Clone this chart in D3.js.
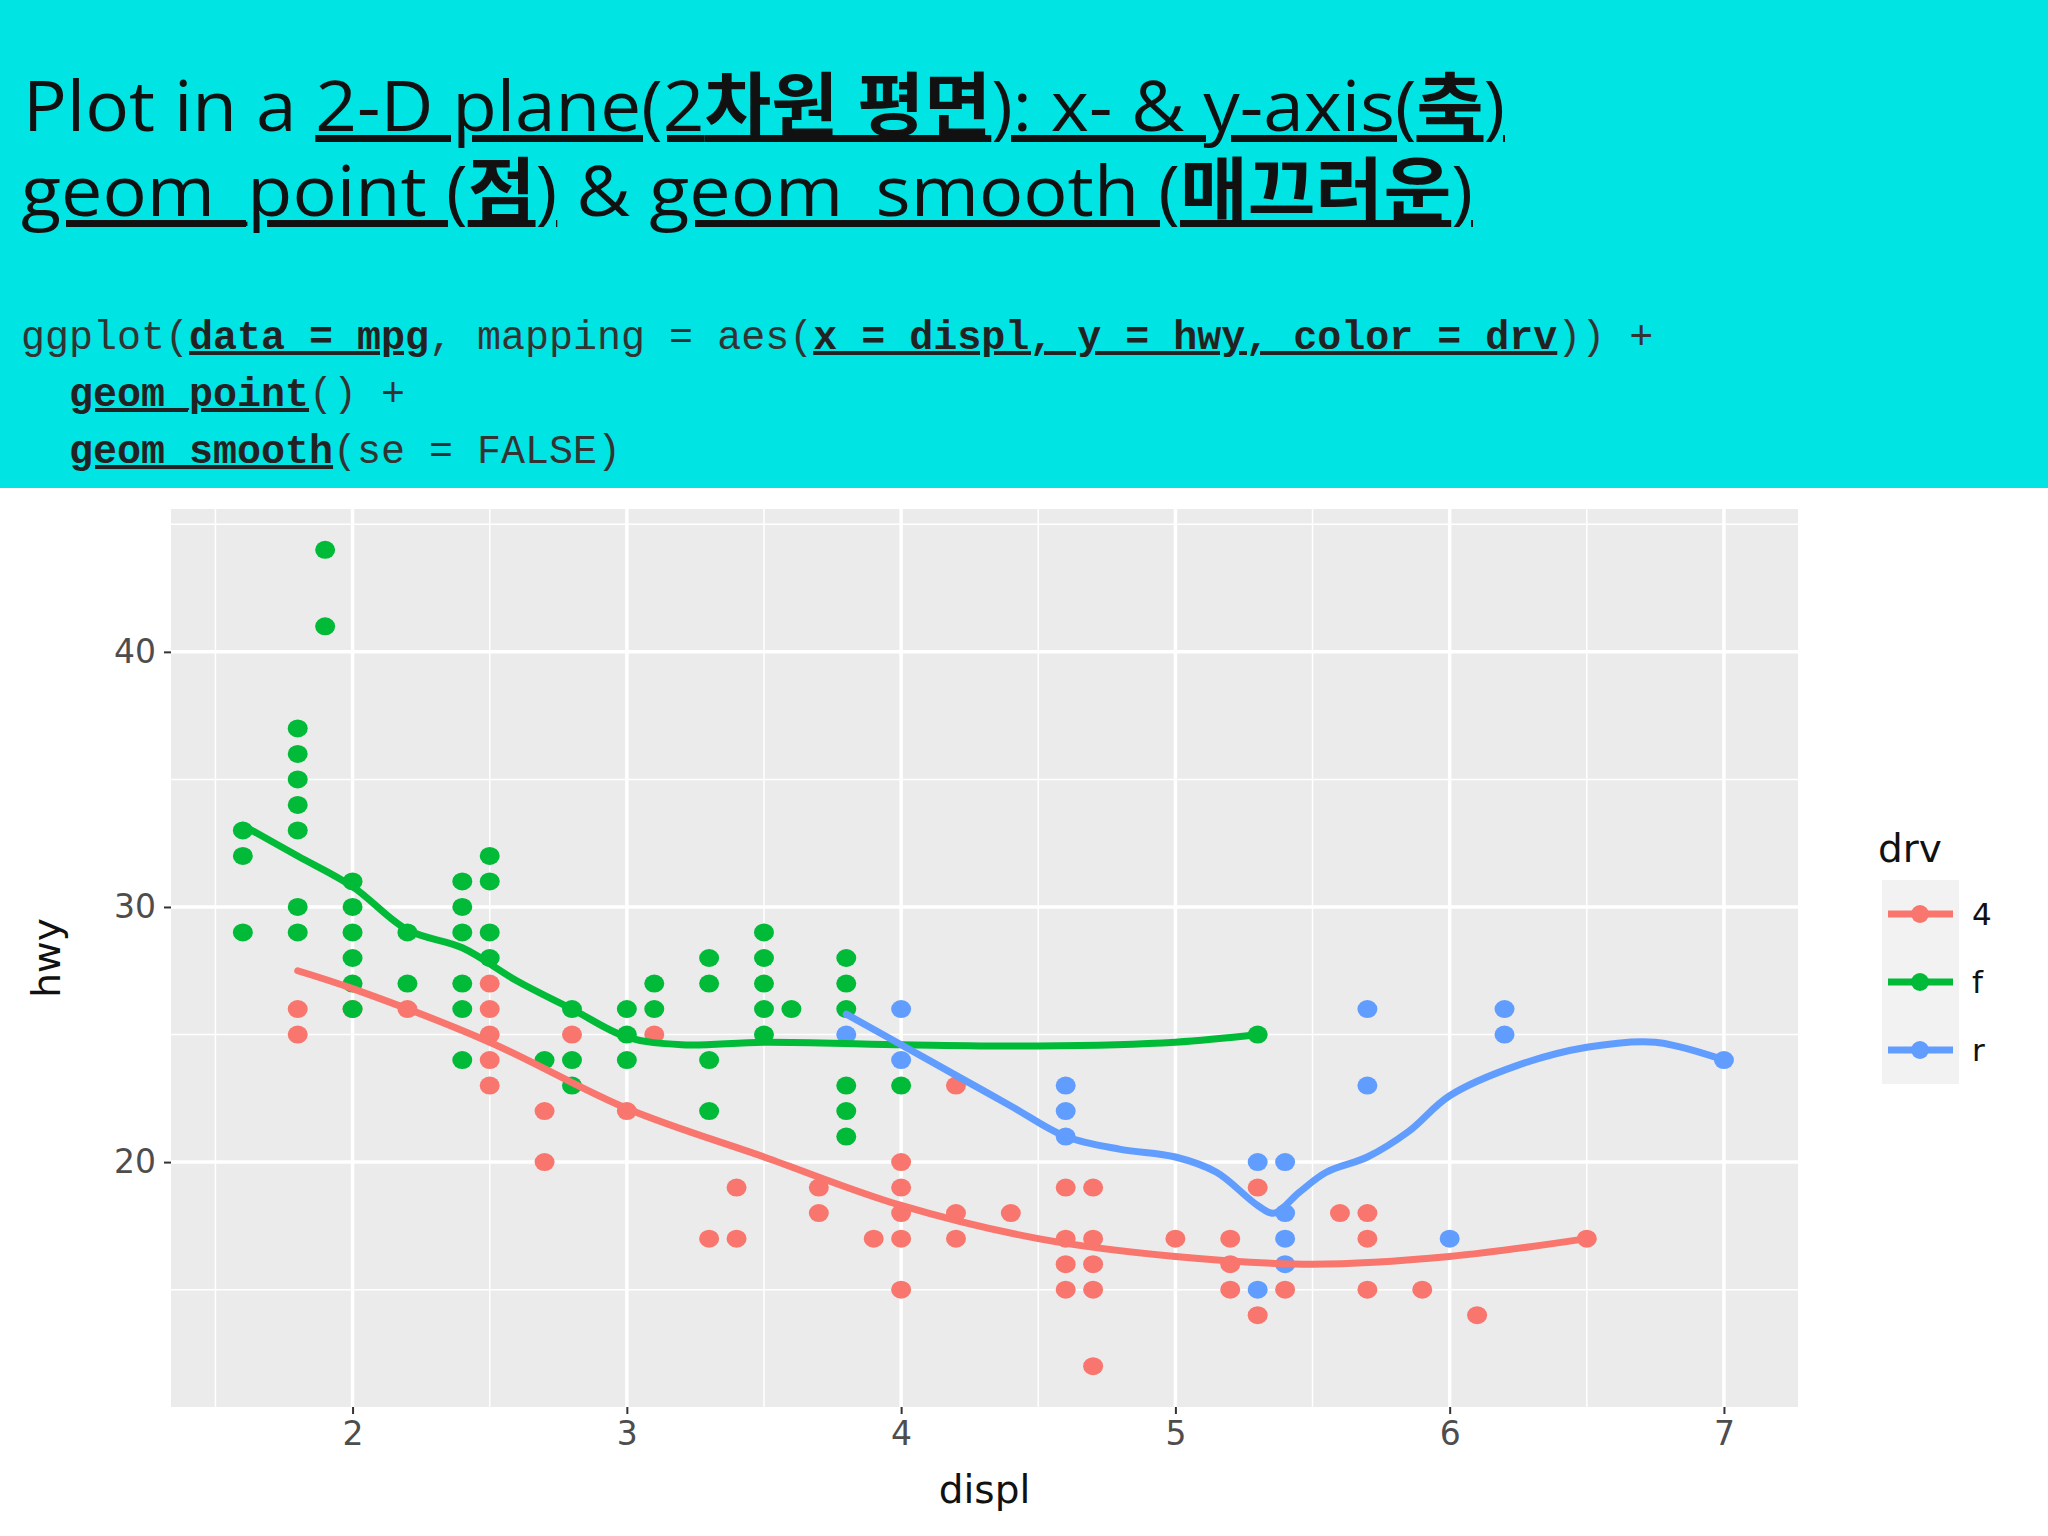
<!DOCTYPE html>
<html><head><meta charset="utf-8">
<script src="https://cdn.jsdelivr.net/npm/d3@7"></script>
<style>body{margin:0;background:#fff}text{white-space:pre}</style>
</head><body>
<script>
// mpg points: [displ, hwy]
const pts4 = [[1.8,26],[1.8,25],[2.0,26],[2.2,26],[2.5,27],[2.5,26],[2.5,25],[2.5,24],[2.5,23],[2.7,22],[2.7,20],[2.8,25],[3.0,22],[3.1,25],
  [3.3,17],[3.4,19],[3.4,17],[3.7,19],[3.7,18],[3.9,17],[4.0,20],[4.0,19],[4.0,18],[4.0,17],[4.0,15],[4.2,23],[4.2,18],[4.2,17],[4.4,18],
  [4.6,19],[4.6,17],[4.6,16],[4.6,15],[4.7,19],[4.7,17],[4.7,16],[4.7,15],[4.7,12],[5.0,17],[5.2,17],[5.2,16],[5.2,15],[5.3,19],[5.3,14],
  [5.4,15],[5.6,18],[5.7,18],[5.7,17],[5.7,15],[5.9,15],[6.1,14],[6.5,17]];
const ptsF = [[1.6,33],[1.6,32],[1.6,29],[1.8,37],[1.8,36],[1.8,35],[1.8,34],[1.8,33],[1.8,30],[1.8,29],[1.9,44],[1.9,41],
  [2.0,31],[2.0,30],[2.0,29],[2.0,28],[2.0,27],[2.0,26],[2.2,29],[2.2,27],[2.4,31],[2.4,30],[2.4,29],[2.4,27],[2.4,26],[2.4,24],
  [2.5,32],[2.5,31],[2.5,29],[2.5,28],[2.7,24],[2.8,26],[2.8,24],[2.8,23],[3.0,26],[3.0,25],[3.0,24],[3.1,27],[3.1,26],
  [3.3,28],[3.3,27],[3.3,24],[3.3,22],[3.5,29],[3.5,28],[3.5,27],[3.5,26],[3.5,25],[3.6,26],
  [3.8,28],[3.8,27],[3.8,26],[3.8,23],[3.8,22],[3.8,21],[4.0,23],[5.3,25]];
const ptsR = [[3.8,25],[4.0,26],[4.0,24],[4.6,23],[4.6,22],[4.6,21],[5.3,20],[5.3,15],[5.4,20],[5.4,18],[5.4,17],[5.4,16],
  [5.7,26],[5.7,23],[6.0,17],[6.2,26],[6.2,25],[7.0,24]];
// smooth curves
const smooth4 = [[1.8,27.5],[2.0,26.8],[2.5,24.7],[3.0,22.1],[3.5,20.2],[4.0,18.3],[4.5,17.0],[5.0,16.3],[5.5,16.0],[6.0,16.3],[6.5,17.0]];
const smoothF = [[1.6,33.2],[1.8,32.0],[2.0,30.8],[2.2,29.1],[2.4,28.4],[2.6,27.1],[2.8,26.0],[3.0,24.9],[3.2,24.6],[3.5,24.7],[4.0,24.6],[4.5,24.55],[5.0,24.7],[5.3,25.0]];
const smoothR = [[3.8,25.8],[4.0,24.6],[4.2,23.4],[4.4,22.2],[4.6,21.0],[4.8,20.5],[5.0,20.2],[5.15,19.6],[5.3,18.3],[5.36,18.0],[5.45,18.8],[5.55,19.6],[5.7,20.2],[5.85,21.2],[6.0,22.6],[6.25,23.8],[6.5,24.5],[6.75,24.7],[7.0,24.0]];
const xTicks = [2,3,4,5,6,7];
const yTicks = [20,30,40];
const drvLevels = ["4","f","r"];
const colors = ["#F8766D","#00BA38","#619CFF"];

const W = 2048, H = 1536;
const svg = d3.select("body").append("svg").attr("width", W).attr("height", H);

// header
svg.append("rect").attr("x",0).attr("y",0).attr("width",W).attr("height",488).attr("fill","#00E4E4");
const kf = "'Open Sans','Noto Sans CJK KR',sans-serif";
const t1 = svg.append("text").attr("x",23).attr("y",131).attr("font-size",70).attr("font-family",kf).attr("fill","#111")
  .attr("textLength",1482).attr("lengthAdjust","spacingAndGlyphs");
t1.append("tspan").text("Plot in a ");
const u1 = t1.append("tspan").attr("text-decoration","underline");
u1.append("tspan").text("2-D plane(2");
u1.append("tspan").attr("font-weight","bold").text("차원 평면");
u1.append("tspan").text("): x- & y-axis(");
u1.append("tspan").attr("font-weight","bold").text("축");
u1.append("tspan").text(")");
const t2 = svg.append("text").attr("x",21).attr("y",216).attr("font-size",70).attr("font-family",kf).attr("fill","#111")
  .attr("textLength",1452).attr("lengthAdjust","spacingAndGlyphs");
const u2 = t2.append("tspan").attr("text-decoration","underline");
u2.append("tspan").text("geom_point (");
u2.append("tspan").attr("font-weight","bold").text("점");
u2.append("tspan").text(")");
t2.append("tspan").text(" & ");
const u3 = t2.append("tspan").attr("text-decoration","underline");
u3.append("tspan").text("geom_smooth (");
u3.append("tspan").attr("font-weight","bold").text("매끄러운");
u3.append("tspan").text(")");

const codeLines = [
  [["ggplot(",0],["data = mpg",1],[", mapping = aes(",0],["x = displ, y = hwy, color = drv",1],[")) +",0]],
  [["  ",0],["geom_point",1],["() +",0]],
  [["  ",0],["geom_smooth",1],["(se = FALSE)",0]]
];
codeLines.forEach((ln,i) => {
  const t = svg.append("text").attr("x",21).attr("y",349+i*57).attr("font-size",40)
    .attr("font-family","'Liberation Mono',monospace").attr("fill","#333");
  ln.forEach(([s,u]) => {
    const sp = t.append("tspan").text(s);
    if (u) sp.attr("text-decoration","underline").attr("font-weight","bold").attr("fill","#222");
  });
});

// plot panel
const pl = 171, pr = 1798, pt = 509, pb = 1407;
const x = d3.scaleLinear().domain([1.338,7.27]).range([pl,pr]);
const y = d3.scaleLinear().domain([10.4,45.6]).range([pb,pt]);
svg.append("rect").attr("x",pl).attr("y",pt).attr("width",pr-pl).attr("height",pb-pt).attr("fill","#EBEBEB");
const minorX = d3.range(1.5,7.01,1), minorY = [15,25,35,45];
const g = svg.append("g");
g.selectAll("line.mx").data(minorX).join("line").attr("x1",d=>x(d)).attr("x2",d=>x(d)).attr("y1",pt).attr("y2",pb)
  .attr("stroke","#fff").attr("stroke-width",1.5);
g.selectAll("line.my").data(minorY).join("line").attr("y1",d=>y(d)).attr("y2",d=>y(d)).attr("x1",pl).attr("x2",pr)
  .attr("stroke","#fff").attr("stroke-width",1.5);
g.selectAll("line.gx").data(xTicks).join("line").attr("x1",d=>x(d)).attr("x2",d=>x(d)).attr("y1",pt).attr("y2",pb)
  .attr("stroke","#fff").attr("stroke-width",3.5);
g.selectAll("line.gy").data(yTicks).join("line").attr("y1",d=>y(d)).attr("y2",d=>y(d)).attr("x1",pl).attr("x2",pr)
  .attr("stroke","#fff").attr("stroke-width",3.5);

// axes
const xa = svg.append("g").attr("transform",`translate(0,${pb})`)
  .call(d3.axisBottom(x).tickValues(xTicks).tickFormat(d3.format("d")).tickSize(7).tickPadding(8));
const ya = svg.append("g").attr("transform",`translate(${pl},0)`)
  .call(d3.axisLeft(y).tickValues(yTicks).tickFormat(d3.format("d")).tickSize(7).tickPadding(8));
[xa,ya].forEach(a => {
  a.select(".domain").remove();
  a.selectAll("line").attr("stroke","#333").attr("stroke-width",2);
  a.selectAll("text").attr("font-size",33).attr("fill","#4D4D4D").attr("font-family","'DejaVu Sans',sans-serif");
});
svg.append("text").attr("x",(pl+pr)/2).attr("y",1503).attr("text-anchor","middle").attr("font-size",39)
  .attr("font-family","'DejaVu Sans',sans-serif").attr("fill","#111").text("displ");
svg.append("text").attr("transform",`translate(60,${(pt+pb)/2}) rotate(-90)`).attr("text-anchor","middle").attr("font-size",39)
  .attr("font-family","'DejaVu Sans',sans-serif").attr("fill","#111").text("hwy");

// points
[pts4,ptsF,ptsR].forEach((pts,i) => {
  svg.append("g").selectAll("ellipse").data(pts).join("ellipse")
    .attr("cx",d=>x(d[0])).attr("cy",d=>y(d[1])).attr("rx",10).attr("ry",9).attr("fill",colors[i]);
});
// smooth lines
const line = d3.line().x(d=>x(d[0])).y(d=>y(d[1])).curve(d3.curveCatmullRom);
[smooth4,smoothF,smoothR].forEach((s,i) => {
  svg.append("path").attr("d",line(s)).attr("fill","none").attr("stroke",colors[i]).attr("stroke-width",7).attr("stroke-linecap","round");
});

// legend
svg.append("text").attr("x",1878).attr("y",862).attr("font-size",39).attr("font-family","'DejaVu Sans',sans-serif").attr("fill","#111").text("drv");
const lg = svg.append("g").selectAll("g").data(drvLevels).join("g").attr("transform",(d,i)=>`translate(1882,${880+i*68})`);
lg.append("rect").attr("width",77).attr("height",68).attr("fill","#F2F2F2");
lg.append("line").attr("x1",6).attr("x2",71).attr("y1",34).attr("y2",34).attr("stroke",(d,i)=>colors[i]).attr("stroke-width",7);
lg.append("circle").attr("cx",38).attr("cy",34).attr("r",9).attr("fill",(d,i)=>colors[i]);
lg.append("text").attr("x",90).attr("y",45).attr("font-size",31).attr("font-family","'DejaVu Sans',sans-serif").attr("fill","#111").text(d=>d);
</script>
</body></html>
